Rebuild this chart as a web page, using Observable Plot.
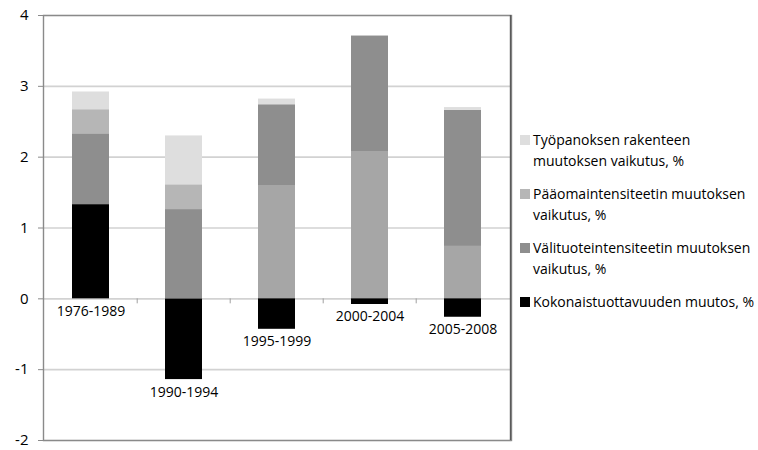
<!DOCTYPE html>
<html>
<head>
<meta charset="utf-8">
<script src="https://cdn.jsdelivr.net/npm/d3@7"></script>
<script src="https://cdn.jsdelivr.net/npm/@observablehq/plot@0.6"></script>
<style>
  html, body { margin: 0; padding: 0; background: #fff; }
  #wrap { position: relative; width: 758px; height: 450px; font-family: "Open Sans", sans-serif; }
  #wrap svg { position: absolute; left: 0; top: 0; overflow: visible; }
  #legend { position: absolute; left: 520px; top: 129px; font-size: 14px; color: #000; line-height: 21px; }
  .item { display: flex; align-items: flex-start; margin-bottom: 12px; }
  .sw { width: 10px; height: 10px; flex: 0 0 10px; margin-top: 6px; margin-right: 3px; }
</style>
</head>
<body>
<div id="wrap"><div id="legend"></div></div>
<script>
// ---- data ----
const periods = ["1976-1989", "1990-1994", "1995-1999", "2000-2004", "2005-2008"];
const legendLines = [
  ["Työpanoksen rakenteen", "muutoksen vaikutus, %"],
  ["Pääomaintensiteetin muutoksen", "vaikutus, %"],
  ["Välituoteintensiteetin muutoksen", "vaikutus, %"],
  ["Kokonaistuottavuuden muutos, %"]
];
const tyopanos  = [0.25, 0.69, 0.08, 0.00, 0.04];
const paaoma    = [0.34, 0.35, 0.00, 0.00, 0.00];
const valituote = [1.00, 1.26, 1.14, 1.63, 1.92];
const kokonais  = [1.33, -1.14, -0.43, -0.08, -0.26];
const muu       = [0.00, 0.00, 1.60, 2.08, 0.74]; // segment without legend entry
const yTicks = [-2, -1, 0, 1, 2, 3, 4];

// ---- build table ----
const seriesKeys = ["muu", "kokonais", "valituote", "paaoma", "tyopanos"];
const seriesVals = {muu, kokonais, valituote, paaoma, tyopanos};
const seriesColors = {muu: "#a6a6a6", kokonais: "#000000", valituote: "#8e8e8e", paaoma: "#b6b6b6", tyopanos: "#dedede"};
const rows = [];
for (const k of seriesKeys) periods.forEach((p, i) => rows.push({period: p, series: k, value: seriesVals[k][i]}));
const labelRows = periods.map((p, i) => ({
  period: p,
  bottom: seriesKeys.map(k => seriesVals[k][i]).filter(v => v < 0).reduce((a, b) => a + b, 0)
}));

const W = 758, H = 450, mL = 43, mR = 247, mT = 15, mB = 10;
const step = (W - mL - mR) / periods.length;
const pxPerUnit = (H - mT - mB) / (yTicks[yTicks.length - 1] - yTicks[0]);

const chart = Plot.plot({
  width: W, height: H,
  marginLeft: mL, marginRight: mR, marginTop: mT, marginBottom: mB,
  style: {fontFamily: "'Open Sans', sans-serif", fontSize: "14px", color: "#000", background: "transparent"},
  x: {domain: periods, paddingInner: 0.6, paddingOuter: 0.3, axis: null},
  y: {domain: [yTicks[0], yTicks[yTicks.length - 1]]},
  color: {domain: seriesKeys, range: seriesKeys.map(k => seriesColors[k])},
  marks: [
    Plot.ruleY(yTicks, {stroke: "#d2d2d2", strokeWidth: 1.6}),
    Plot.ruleX(periods.slice(1), {x: d => d, y1: 0, y2: -5 / pxPerUnit, dx: -step / 2, stroke: "#a0a0a0", strokeWidth: 1}),
    Plot.barY(rows, {x: "period", y: "value", z: "series", fill: "series", order: seriesKeys}),
    Plot.frame({stroke: "#8a8a8a", strokeWidth: 1.4}),
    Plot.ruleX([periods[periods.length - 1]], {x: d => d, dx: step / 2 + 0.7, stroke: "#5a5a5a", strokeWidth: 1.4}),
    Plot.axisY(yTicks, {tickSize: 5, tickPadding: 10, stroke: "#8a8a8a", fontSize: 15, label: null, tickFormat: d => String(d)}),
    Plot.text(labelRows, {x: "period", y: "bottom", text: "period", lineAnchor: "top", dy: 7, fill: "#000", fontSize: 14})
  ]
});
document.getElementById("wrap").prepend(chart);

const legendKeys = ["tyopanos", "paaoma", "valituote", "kokonais"];
const leg = document.getElementById("legend");
legendKeys.forEach((k, i) => {
  const item = document.createElement("div");
  item.className = "item";
  const sw = document.createElement("div");
  sw.className = "sw";
  sw.style.background = seriesColors[k];
  const txt = document.createElement("div");
  txt.innerHTML = legendLines[i].join("<br>");
  item.append(sw, txt);
  leg.append(item);
});
</script>
</body>
</html>
